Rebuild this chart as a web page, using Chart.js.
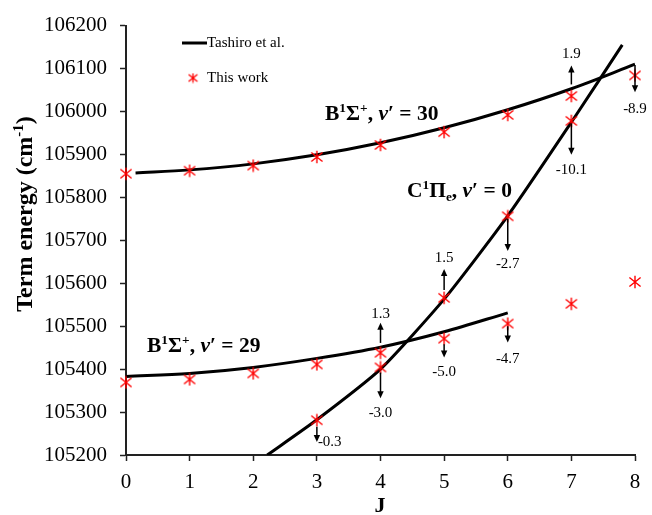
<!DOCTYPE html>
<html>
<head>
<meta charset="utf-8">
<script src="https://cdn.jsdelivr.net/npm/chart.js@4"></script>
<style>
  html, body { margin: 0; padding: 0; background: #fff; }
  #wrap { width: 652px; height: 515px; position: relative; }
</style>
</head>
<body>
<div id="wrap"><canvas id="chart" width="652" height="515"></canvas></div>
<script>
// rotational levels
const J = [0, 1, 2, 3, 4, 5, 6, 7, 8]
const yTicks = [105200, 105300, 105400, 105500, 105600, 105700, 105800, 105900, 106000, 106100, 106200]

// this work (measured term energies)
const workB30 = [105855, 105862, 105874, 105894, 105922, 105952, 105992, 106036, 106084]
const workB29 = [105369, 105376, 105390, 105411, 105438, 105471, 105506, 105552, 105603]
const workCJ = [3, 4, 5, 6, 7]
const workC = [105281, 105404, 105566, 105756, 105978]

// Tashiro et al. curves
const tashB30J = [0.15, 1, 2, 3, 4, 5, 6, 7, 8]
const tashB30 = [105857, 105864, 105878, 105899, 105927, 105962, 106004, 106053, 106110]
const tashB29J = [0, 1, 2, 3, 4, 5, 6]
const tashB29 = [105383, 105390, 105404, 105425, 105451, 105487, 105531]
const tashCJ = [2.22, 3, 4, 5, 6, 7, 7.8]
const tashC = [105200, 105282, 105400, 105563, 105757, 105975, 106155]

// deviation arrows: J, arrow start, arrow tip, label, label y
const arrows = [
  [7, 106063, 106107, '1.9', 106133],
  [8, 106108, 106045, '-8.9', 106006],
  [7, 105972, 105899, '-10.1', 105864],
  [6, 105750, 105675, '-2.7', 105645],
  [5, 105584, 105633, '1.5', 105658],
  [5, 105458, 105427, '-5.0', 105392],
  [6, 105500, 105462, '-4.7', 105424],
  [4, 105461, 105508, '1.3', 105529],
  [4, 105392, 105332, '-3.0', 105297],
  [3, 105266, 105230, '-0.3', 105229]
]

const SERIF = '"Liberation Serif", "Times New Roman", serif'

function pts(xs, ys) {
  return xs.map((x, i) => ({ x: x, y: ys[i] }))
}

function starMarker(size, lw) {
  const c = document.createElement('canvas')
  c.width = size
  c.height = size
  const g = c.getContext('2d')
  const m = size / 2
  const d = size * 0.4
  g.strokeStyle = '#ff0000'
  g.lineWidth = lw
  g.beginPath()
  g.moveTo(m - d, m - d * 0.8); g.lineTo(m + d, m + d * 0.8)
  g.moveTo(m + d, m - d * 0.8); g.lineTo(m - d, m + d * 0.8)
  g.moveTo(m, m - d * 1.1); g.lineTo(m, m + d * 1.1)
  g.stroke()
  return c
}
const star = starMarker(14, 1.4)
const legendStar = starMarker(11, 1.3)

function drawRich(ctx, x, y, parts, size) {
  let cx = x
  for (const [txt, kind] of parts) {
    let fs = size, dy = 0, st = 'bold'
    if (kind === 'sup') { fs = size * 0.62; dy = -size * 0.36 }
    if (kind === 'sub') { fs = size * 0.62; dy = size * 0.2 }
    if (kind === 'it') st = 'italic bold'
    ctx.font = `${st} ${fs}px ${SERIF}`
    ctx.fillText(txt, cx, y + dy)
    cx += ctx.measureText(txt).width
  }
  return cx - x
}

function richWidth(ctx, parts, size) {
  let w = 0
  for (const [txt, kind] of parts) {
    let fs = size, st = 'bold'
    if (kind === 'sup' || kind === 'sub') fs = size * 0.62
    if (kind === 'it') st = 'italic bold'
    ctx.font = `${st} ${fs}px ${SERIF}`
    w += ctx.measureText(txt).width
  }
  return w
}

const decorations = {
  id: 'decorations',
  afterDatasetsDraw(chart) {
    const ctx = chart.ctx
    const xs = chart.scales.x
    const ys = chart.scales.y
    ctx.save()
    ctx.fillStyle = '#000'
    ctx.strokeStyle = '#000'
    ctx.textBaseline = 'alphabetic'
    ctx.textAlign = 'left'

    // state labels
    drawRich(ctx, 325, 120, [['B', ''], ['1', 'sup'], ['Σ', ''], ['+', 'sup'], [', ', ''], ['v', 'it'], ['′ = 30', '']], 21.5)
    drawRich(ctx, 407, 197, [['C', ''], ['1', 'sup'], ['Π', ''], ['e', 'sub'], [', ', ''], ['v', 'it'], ['′ = 0', '']], 21.5)
    drawRich(ctx, 147, 352, [['B', ''], ['1', 'sup'], ['Σ', ''], ['+', 'sup'], [', ', ''], ['v', 'it'], ['′ = 29', '']], 21.5)

    // deviation arrows
    ctx.lineWidth = 1.5
    ctx.font = `15px ${SERIF}`
    ctx.textBaseline = 'middle'
    for (const [j, a, b, label, ly] of arrows) {
      const px = xs.getPixelForValue(j)
      const p0 = ys.getPixelForValue(a)
      const p1 = ys.getPixelForValue(b)
      const dir = p1 > p0 ? 1 : -1
      ctx.beginPath()
      ctx.moveTo(px, p0)
      ctx.lineTo(px, p1 - dir * 5)
      ctx.stroke()
      ctx.beginPath()
      ctx.moveTo(px, p1)
      ctx.lineTo(px - 3.2, p1 - dir * 7)
      ctx.lineTo(px + 3.2, p1 - dir * 7)
      ctx.closePath()
      ctx.fill()
      if (label === '-0.3') {
        ctx.textAlign = 'left'
        ctx.fillText(label, px + 1, ys.getPixelForValue(ly))
      } else {
        ctx.textAlign = 'center'
        ctx.fillText(label, px, ys.getPixelForValue(ly))
      }
    }

    // legend
    ctx.lineWidth = 3
    ctx.beginPath()
    ctx.moveTo(182, 43)
    ctx.lineTo(207, 43)
    ctx.stroke()
    ctx.textAlign = 'left'
    ctx.font = `15px ${SERIF}`
    ctx.fillText('Tashiro et al.', 207, 43)
    ctx.drawImage(legendStar, 193 - 5.5, 78 - 5.5)
    ctx.fillText('This work', 207, 78)

    // axis titles
    ctx.textBaseline = 'middle'
    ctx.textAlign = 'center'
    ctx.font = `bold 22px ${SERIF}`
    ctx.fillText('J', 380, 506)

    ctx.translate(24, 214)
    ctx.rotate(-Math.PI / 2)
    ctx.textBaseline = 'alphabetic'
    ctx.textAlign = 'left'
    const tparts = [['Term energy (cm', ''], ['-1', 'sup'], [')', '']]
    const tw = richWidth(ctx, tparts, 24)
    drawRich(ctx, -tw / 2, 8, tparts, 24)
    ctx.restore()
  }
}

new Chart(document.getElementById('chart'), {
  type: 'scatter',
  data: {
    datasets: [
      {
        label: 'This work',
        data: pts(J, workB30).concat(pts(J, workB29), pts(workCJ, workC)),
        pointStyle: star,
        pointRadius: 7,
        showLine: false,
        clip: false,
        order: 0
      },
      {
        label: 'Tashiro et al.',
        data: pts(tashB30J, tashB30),
        showLine: true,
        borderColor: '#000',
        borderWidth: 3,
        pointRadius: 0,
        cubicInterpolationMode: 'monotone',
        order: 1
      },
      {
        label: 'Tashiro B29',
        data: pts(tashB29J, tashB29),
        showLine: true,
        borderColor: '#000',
        borderWidth: 3,
        pointRadius: 0,
        cubicInterpolationMode: 'monotone',
        order: 1
      },
      {
        label: 'Tashiro C',
        data: pts(tashCJ, tashC),
        showLine: true,
        borderColor: '#000',
        borderWidth: 3,
        pointRadius: 0,
        tension: 0.2,
        order: 1
      }
    ]
  },
  options: {
    responsive: false,
    animation: false,
    layout: { padding: { top: 23, right: 17, left: 0, bottom: 0 } },
    plugins: {
      legend: { display: false },
      tooltip: { enabled: false }
    },
    scales: {
      x: {
        type: 'linear',
        min: 0,
        max: 8,
        afterFit(scale) { scale.height = 60 },
        afterBuildTicks(scale) { scale.ticks = J.map(v => ({ value: v })) },
        grid: { drawOnChartArea: false, drawTicks: true, tickLength: 6, tickColor: '#222', tickWidth: 1.5 },
        border: { display: true, color: '#222', width: 2 },
        ticks: { color: '#000', font: { family: SERIF, size: 21 }, padding: 9, maxRotation: 0 }
      },
      y: {
        min: 105200,
        max: 106200,
        afterFit(scale) { scale.width = 126 },
        afterBuildTicks(scale) { scale.ticks = yTicks.map(v => ({ value: v })) },
        grid: { drawOnChartArea: false, drawTicks: true, tickLength: 6, tickColor: '#222', tickWidth: 1.5 },
        border: { display: true, color: '#222', width: 2 },
        ticks: { color: '#000', font: { family: SERIF, size: 21 }, padding: 13, callback: v => String(v) }
      }
    }
  },
  plugins: [decorations]
})
</script>
</body>
</html>
